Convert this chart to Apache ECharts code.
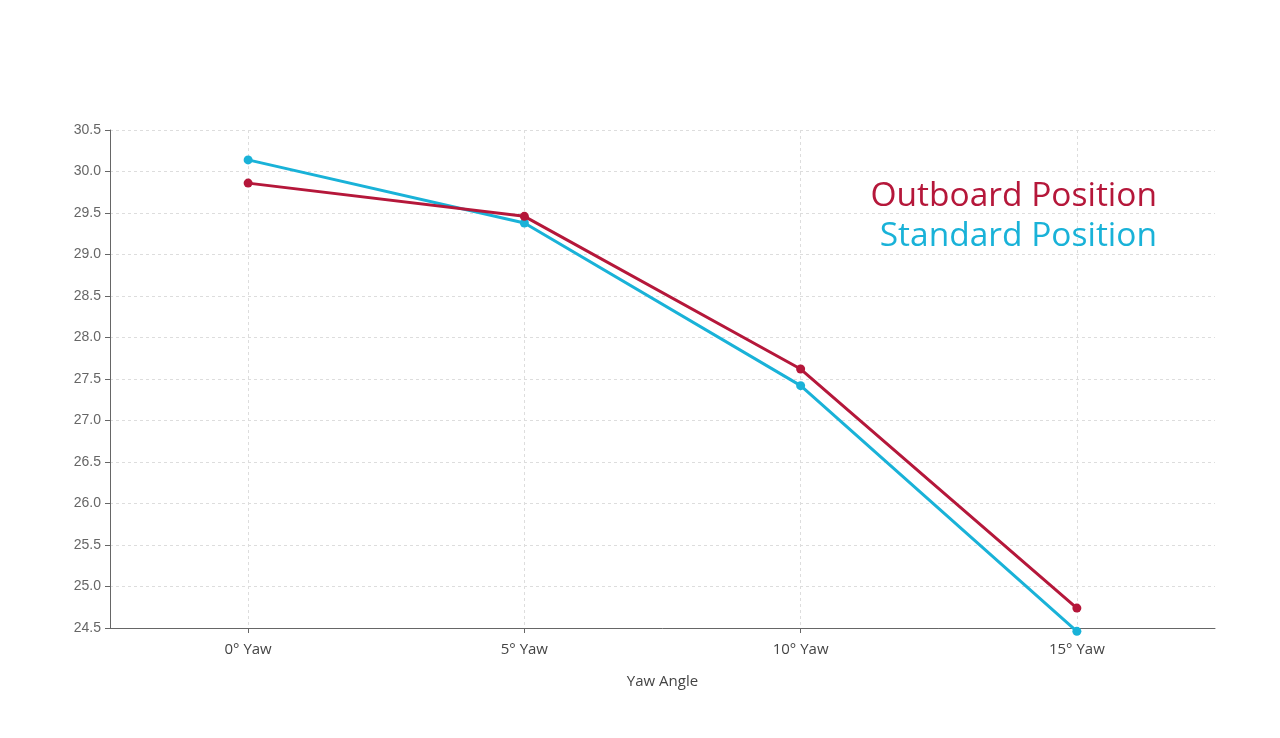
<!DOCTYPE html>
<html>
<head>
<meta charset="utf-8">
<script src="https://cdn.jsdelivr.net/npm/echarts@6/dist/echarts.min.js"></script>
<style>
  html, body { margin: 0; padding: 0; background: #fff; }
  #chart { width: 1280px; height: 738px; }
</style>
</head>
<body>
<div id="chart"></div>
<script>
// data
var yawAngles = ['0° Yaw', '5° Yaw', '10° Yaw', '15° Yaw'];
var outboardValues = [29.86, 29.46, 27.62, 24.74];
var standardValues = [30.14, 29.38, 27.42, 24.46];
var seriesNames = ['Outboard Position', 'Standard Position'];
var seriesColors = ['#b5173a', '#19b2d8'];

var chart = echarts.init(document.getElementById('chart'));

var option = {
    backgroundColor: '#fff',
    animation: false,
    grid: { left: 110, right: 65, top: 130, bottom: 110 },
    legend: {
        orient: 'vertical',
        right: 113,
        top: 174,
        align: 'right',
        itemGap: 6,
        icon: 'none',
        itemWidth: 0,
        selectedMode: false,
        data: [
            { name: seriesNames[0], textStyle: { color: seriesColors[0] } },
            { name: seriesNames[1], textStyle: { color: seriesColors[1] } }
        ],
        textStyle: { fontFamily: 'Open Sans', fontSize: 33.5 }
    },
    xAxis: {
        type: 'category',
        data: yawAngles,
        boundaryGap: true,
        name: 'Yaw Angle',
        nameLocation: 'middle',
        nameGap: 46,
        nameTextStyle: { fontFamily: 'Open Sans', fontSize: 15, color: '#444' },
        axisLine: { lineStyle: { color: '#666', width: 1 } },
        axisTick: { show: true, alignWithLabel: true, length: 5, lineStyle: { color: '#666' } },
        axisLabel: { fontFamily: 'Open Sans', fontSize: 15, color: '#444', margin: 14 },
        splitLine: { show: true, alignWithLabel: true, lineStyle: { color: '#ddd', type: [3, 3] } }
    },
    yAxis: {
        type: 'value',
        min: 24.5,
        max: 30.5,
        interval: 0.5,
        axisLine: { show: true, lineStyle: { color: '#666', width: 1 } },
        axisTick: { show: true, length: 5, lineStyle: { color: '#666' } },
        axisLabel: {
            fontFamily: 'Liberation Sans',
            fontSize: 14,
            color: '#666',
            margin: 9,
            formatter: function (v) { return v.toFixed(1); }
        },
        splitLine: { show: true, lineStyle: { color: '#ddd', type: [3, 3] } }
    },
    series: [
        {
            name: seriesNames[1],
            type: 'line',
            data: standardValues,
            symbol: 'circle',
            symbolSize: 9,
            clip: false,
            itemStyle: { color: seriesColors[1] },
            lineStyle: { color: seriesColors[1], width: 3 },
            z: 2
        },
        {
            name: seriesNames[0],
            type: 'line',
            data: outboardValues,
            symbol: 'circle',
            symbolSize: 9,
            clip: false,
            itemStyle: { color: seriesColors[0] },
            lineStyle: { color: seriesColors[0], width: 3 },
            z: 3
        }
    ]
};

chart.setOption(option);
</script>
</body>
</html>
